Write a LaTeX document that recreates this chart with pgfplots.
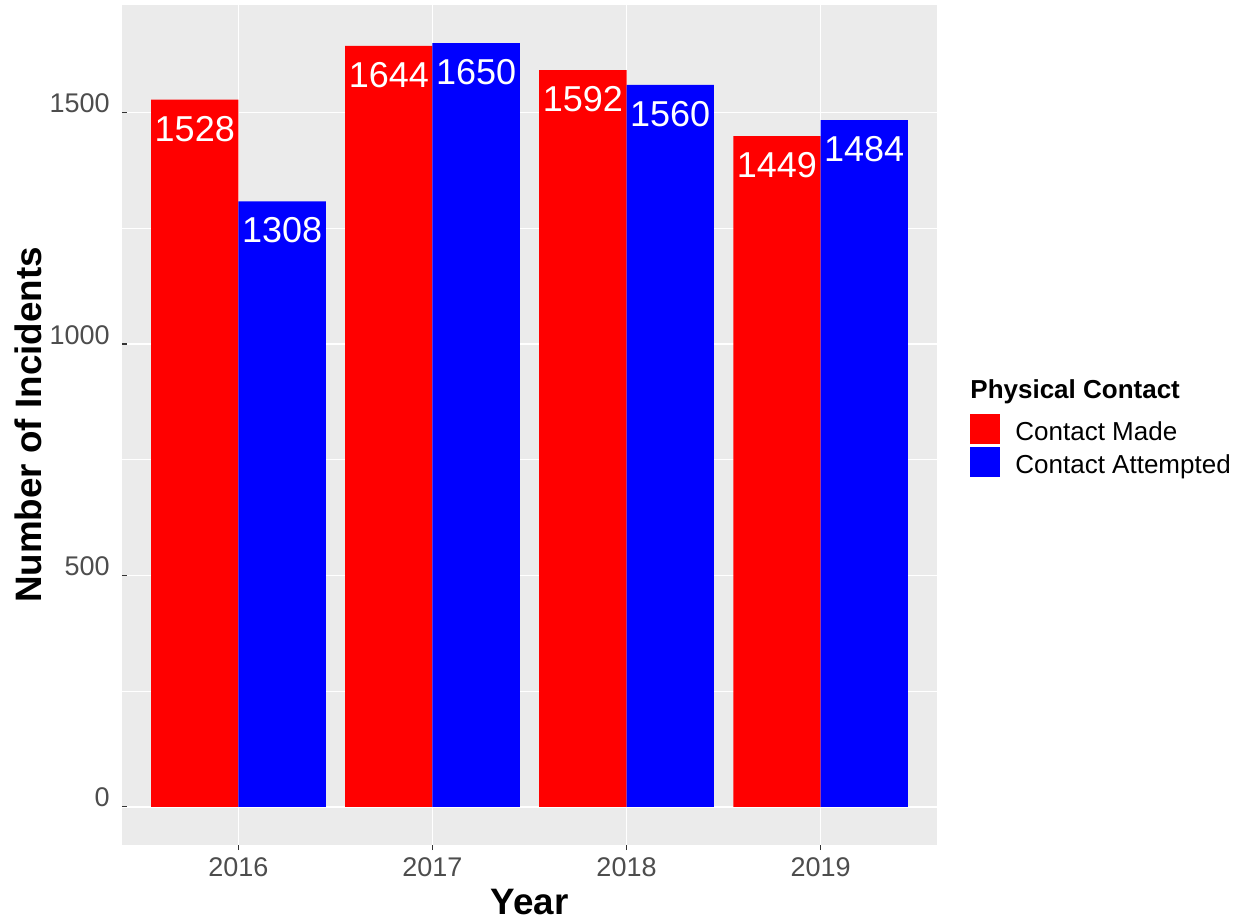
\documentclass[border=0pt]{standalone}
\usepackage{pgfplots}
\pgfplotsset{compat=1.18}
\usepackage{fontspec}
\setmainfont{Liberation Sans}
\definecolor{ggpanel}{HTML}{EBEBEB}
\definecolor{ggtick}{HTML}{333333}
\definecolor{gglab}{HTML}{4D4D4D}
\definecolor{cmade}{HTML}{FF0000}
\definecolor{catt}{HTML}{0000FF}
\begin{document}
\begin{tikzpicture}
\begin{axis}[
  scale only axis,
  width=407.5pt, height=420pt,
  xmin=0.4, xmax=4.6,
  ymin=-82.5, ymax=1732.5,
  clip=false,
  /pgf/number format/.cd, 1000 sep={}, assume math mode=true, /pgfplots/.cd,
  axis line style={draw=none},
  axis background/.style={fill=ggpanel},
  xtick={1,2,3,4},
  xticklabels={2016,2017,2018,2019},
  ytick={0,500,1000,1500},
  minor ytick={250,750,1250},
  tick pos=left,
  major tick length=2.5pt,
  minor tick length=0pt,
  major tick style={color=ggtick, line width=0.55pt},
  grid=both,
  major grid style={white, line width=0.75pt},
  minor grid style={white, line width=0.4pt},
  ticklabel style={font=\fontsize{13.5}{13.5}\selectfont, text=gglab, inner sep=0pt},
  xticklabel style={anchor=base, yshift=-13pt},
  yticklabel style={anchor=base east, xshift=-6pt},
  xlabel={\textbf{Year}},
  ylabel={\textbf{Number of Incidents}},
  label style={font=\fontsize{18.4}{18.4}\selectfont},
  xlabel style={at={(axis description cs:0.5,-0.0833)}, anchor=base, inner sep=0pt},
  ylabel style={at={(axis description cs:-0.1153,0.5)}, anchor=center, rotate=0, inner sep=0pt},
  ybar,
  bar width=0.45,
  nodes near coords,
  every node near coord/.append style={font=\fontsize{18}{18}\selectfont, text=white, anchor=center, yshift=-14.5pt},
  legend style={at={(axis description cs:1.0405,0.513)}, anchor=north west, draw=none, fill=none, inner sep=0pt,
    font=\fontsize{13}{13}\selectfont, row sep=1.5pt, column sep=7.5pt,
    nodes={inner sep=0pt, anchor=base west}},
  legend cell align=left,
  legend image code/.code={\fill[#1,draw=none] (0pt,-2pt) rectangle (15pt,13pt);},
]
\addplot[fill=cmade, draw=none, bar shift=-0.225] coordinates {(1,1528) (2,1644) (3,1592) (4,1449)};
\addlegendentry{Contact Made}
\addplot[fill=catt, draw=none, bar shift=0.225] coordinates {(1,1308) (2,1650) (3,1560) (4,1484)};
\addlegendentry{Contact Attempted}
\node[anchor=base west, inner sep=0pt, font=\fontsize{13}{13}\selectfont\bfseries] at (axis description cs:1.0405,0.532) {Physical Contact};
\end{axis}
\pgfresetboundingbox
\path[use as bounding box] ([xshift=-61pt,yshift=-38.5pt]current axis.south west) rectangle ([xshift=151pt,yshift=2.5pt]current axis.north east);
\end{tikzpicture}
\end{document}
